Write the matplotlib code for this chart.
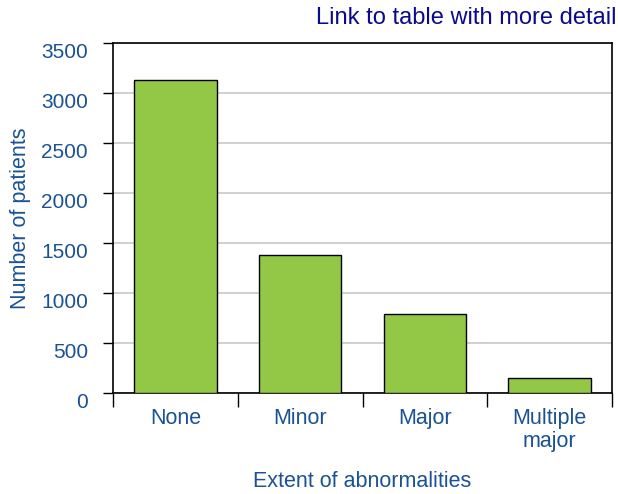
import matplotlib
matplotlib.use("Agg")
import matplotlib.pyplot as plt
import matplotlib.transforms as mtransforms
import numpy as np

categories = ["None", "Minor", "Major", "Multiple\nmajor"]
values = [3130, 1380, 790, 150]
yticks = [0, 500, 1000, 1500, 2000, 2500, 3000, 3500]

plt.rcParams['font.family'] = ['Liberation Sans', 'DejaVu Sans']
txt = '#1a5294'

fig = plt.figure(figsize=(6.18, 4.94), dpi=100)
ax = fig.add_axes([113/618, 1-393/494, (612-113)/618, (393-43)/494])

x = np.arange(len(categories))
ax.bar(x, values, width=0.66, color='#92c846', edgecolor='black', linewidth=1.0, zorder=3)

ax.set_xlim(-0.5, len(categories) - 0.5)
ax.set_ylim(0, 3500)
ax.set_yticks(yticks)
ax.set_yticklabels([str(v) for v in yticks], fontsize=15, color=txt)
ax.yaxis.grid(True, color='#c8c8c8', linewidth=1.2, zorder=0)
ax.set_axisbelow(True)

ax.set_xticks(x)
ax.set_xticklabels(categories, fontsize=15.5, color=txt, linespacing=1.1)
ax.set_xticks(np.arange(-0.5, len(categories)), minor=True)
ax.tick_params(axis='x', which='major', length=0, pad=11)
ax.tick_params(axis='x', which='minor', length=10, width=1, direction='out')
ax.tick_params(axis='y', length=7, width=1, direction='out', pad=11)

shift = mtransforms.ScaledTranslation(0, -7/100, fig.dpi_scale_trans)
for lab in ax.get_yticklabels():
    lab.set_transform(lab.get_transform() + shift)

for s in ax.spines.values():
    s.set_color('black')
    s.set_linewidth(1.2)

ax.set_ylabel("Number of patients", fontsize=15.5, color=txt, labelpad=7)
ax.set_xlabel("Extent of abnormalities", fontsize=15.5, color=txt, labelpad=14)

fig.text(617/618, 1-18/494, "Link to table with more detail", ha='right', va='center',
         fontsize=17, color='#0a0a8c')

fig.savefig("out.png", dpi=100)
